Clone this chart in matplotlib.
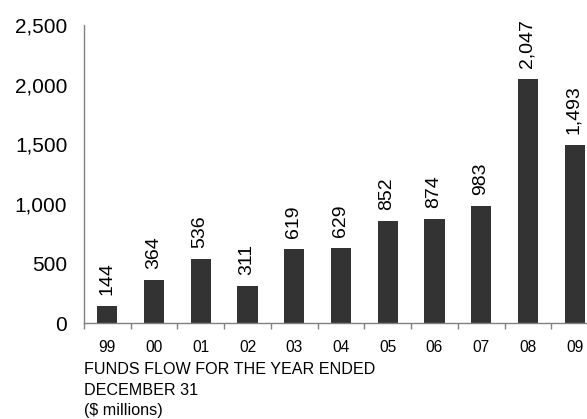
import matplotlib
matplotlib.use("Agg")
import matplotlib.pyplot as plt
import numpy as np

plt.rcParams['font.family'] = ['Liberation Sans', 'DejaVu Sans']

years = ["99", "00", "01", "02", "03", "04", "05", "06", "07", "08", "09"]
values = [144, 364, 536, 311, 619, 629, 852, 874, 983, 2047, 1493]
yticks = [0, 500, 1000, 1500, 2000, 2500]
ytick_labels = ["0", "500", "1,000", "1,500", "2,000", "2,500"]
footer = ["FUNDS FLOW FOR THE YEAR ENDED", "DECEMBER 31", "($ millions)"]

W, H = 587, 419
fig = plt.figure(figsize=(W / 100, H / 100), dpi=100)
ax = fig.add_axes([84 / W, (H - 323) / H, 514 / W, 298 / H])

x = np.arange(len(years))
bars = ax.bar(x, values, width=0.43, color="#333333", zorder=2)
for xi, v in zip(x, values):
    ax.annotate(f"{v:,}", (xi, v), xytext=(-0.5, 8), textcoords="offset points",
                rotation=90, ha="center", va="bottom", fontsize=14, color="#000000")

ax.set_xlim(-0.5, len(years) - 0.5)
ax.set_ylim(0, 2500)
ax.set_yticks(yticks)
ax.set_yticklabels(ytick_labels, fontsize=15)
ax.tick_params(axis="y", length=0, pad=12)
ax.set_xticks(x)
ax.set_xticklabels(years, fontsize=11.2)
ax.tick_params(axis="x", which="major", length=0, pad=12.5)
ax.set_xticks(np.arange(-0.5, len(years), 1.0), minor=True)
ax.tick_params(axis="x", which="minor", length=4, color="#808080", width=1)

for s in ["top", "right"]:
    ax.spines[s].set_visible(False)
for s in ["left", "bottom"]:
    ax.spines[s].set_color("#808080")
    ax.spines[s].set_linewidth(1)

for i, line in enumerate(footer):
    fig.text(84 / W, 1 - (369.5 + i * 20.5) / H, line, fontsize=11.6,
             ha="left", va="center", color="#000000")

fig.savefig("out.png", dpi=100)
